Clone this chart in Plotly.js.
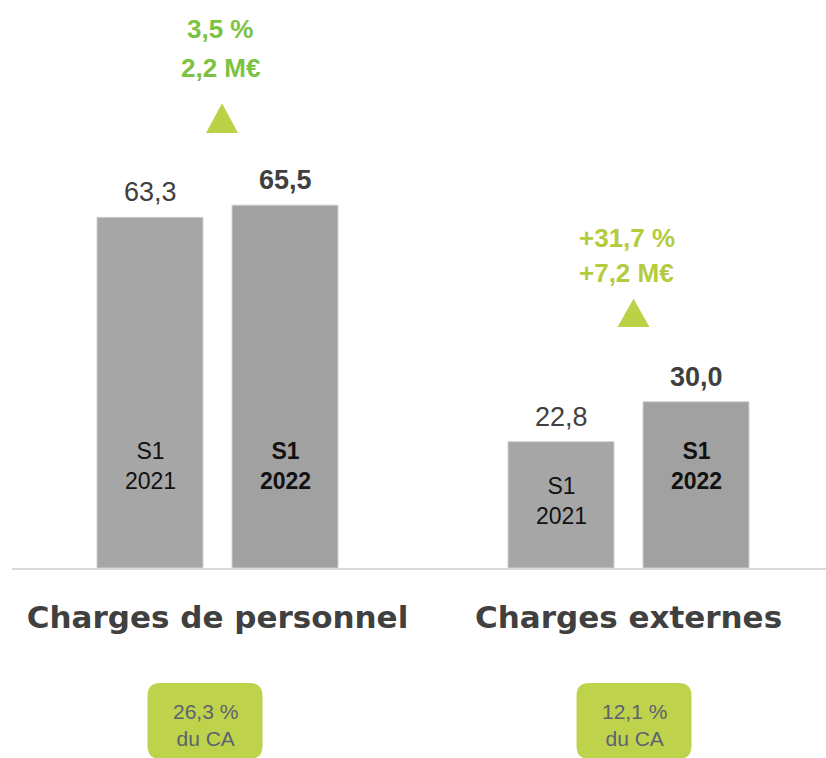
<!DOCTYPE html>
<html>
<head>
<meta charset="utf-8">
<script src="https://cdn.plot.ly/plotly-3.0.1.min.js"></script>
<style>html,body{margin:0;padding:0;background:#fff;}#chart{width:826px;height:758px;}</style>
</head>
<body>
<div id="chart"></div>
<script>
// ---- data ----
const categories = ['Charges de personnel', 'Charges externes'];
const values2021 = [63.3, 22.8];
const values2022 = [65.5, 30.0];
const periodLabels = ['S1<br>2021', 'S1<br>2022'];
const variationPct = ['3,5 %', '+31,7 %'];
const variationEur = ['2,2 M€', '+7,2 M€'];
const shareOfRevenue = ['26,3 %', '12,1 %'];

// ---- layout constants ----
const W = 826, H = 758;
const M = {l: 12, r: 0, t: 0, b: 190};
const plotW = W - M.l - M.r, plotH = H - M.t - M.b;
const xRange = [-0.5, 1.4805];
const yMax = 102.53;
const bargap = 0.343, bargroupgap = 0.215;
const slot = (1 - bargap) / 2;
const offs = [-slot / 2, slot / 2];
const SANS = '"Liberation Sans", Arial, sans-serif';
const fr = v => v.toFixed(1).replace('.', ',');

const pxX = c => M.l + (c - xRange[0]) / (xRange[1] - xRange[0]) * plotW; // category -> px
const paperX = px => (px - M.l) / plotW;
const paperY = py => (M.t + plotH - py) / plotH;

const traces = [
  {type: 'bar', name: 'S1 2021', x: categories, y: values2021,
   marker: {color: '#a6a6a6', line: {color: '#cfcfcf', width: 1}}, hoverinfo: 'skip'},
  {type: 'bar', name: 'S1 2022', x: categories, y: values2022,
   marker: {color: '#a1a1a1', line: {color: '#cfcfcf', width: 1}}, hoverinfo: 'skip'}
];

const annotations = [];
const shapes = [];
const series = [values2021, values2022];
const innerY = [[18.4, 12.1], [18.4, 18.4]];
series.forEach((vals, j) => {
  vals.forEach((v, i) => {
    annotations.push({x: i + offs[j], y: v, xref: 'x', yref: 'y', xanchor: 'center', yanchor: 'bottom', yshift: 8,
      text: fr(v), showarrow: false,
      font: {family: SANS, size: 27, color: '#404040', weight: j === 1 ? 'bold' : 'normal'}});
    annotations.push({x: i + offs[j], y: innerY[j][i], xref: 'x', yref: 'y', xanchor: 'center', yanchor: 'middle',
      text: periodLabels[j], showarrow: false,
      font: {family: SANS, size: 23, color: '#111111', weight: j === 1 ? 'bold' : 'normal'}});
  });
});

// variation texts + triangles
const varColors = ['#7cc243', '#b3cc3e'];
const pctY = [97.3, 59.5], eurY = [90.3, 53.2];
const varDx = [3, -2];
const triDx = [4.5, 5];
const triApex = [83.9, 48.6], triBase = [78.5, 43.5];
categories.forEach((c, i) => {
  const f = {family: SANS, size: 26, color: varColors[i], weight: 'bold'};
  annotations.push({x: paperX(pxX(i) + varDx[i]), y: pctY[i], xref: 'paper', yref: 'y',
    xanchor: 'center', yanchor: 'middle', text: variationPct[i], showarrow: false, font: f});
  annotations.push({x: paperX(pxX(i) + varDx[i]), y: eurY[i], xref: 'paper', yref: 'y',
    xanchor: 'center', yanchor: 'middle', text: variationEur[i], showarrow: false, font: f});
  const cx = pxX(i) + triDx[i];
  shapes.push({type: 'path', xref: 'paper', yref: 'y', layer: 'above',
    path: `M${paperX(cx - 16)},${triBase[i]} L${paperX(cx + 16)},${triBase[i]} L${paperX(cx)},${triApex[i]} Z`,
    fillcolor: '#bdd147', line: {width: 0}});
});

// rounded boxes "% du CA"
const boxCx = [205, 634];
const boxW = 115, boxTop = 683, boxBot = 759, rad = 13;
function roundRect(x0, x1, y0, y1, r) {
  const P = (x, y) => paperX(x) + ',' + paperY(y);
  return `M${P(x0 + r, y0)} L${P(x1 - r, y0)} Q${P(x1, y0)} ${P(x1, y0 + r)} L${P(x1, y1 - r)} Q${P(x1, y1)} ${P(x1 - r, y1)} L${P(x0 + r, y1)} Q${P(x0, y1)} ${P(x0, y1 - r)} L${P(x0, y0 + r)} Q${P(x0, y0)} ${P(x0 + r, y0)} Z`;
}
shareOfRevenue.forEach((s, i) => {
  shapes.push({type: 'path', xref: 'paper', yref: 'paper',
    path: roundRect(boxCx[i] - boxW / 2, boxCx[i] + boxW / 2, boxTop, boxBot, rad),
    fillcolor: '#bfd24b', line: {width: 0}});
  annotations.push({x: paperX(boxCx[i]), y: paperY(725), xref: 'paper', yref: 'paper',
    xanchor: 'center', yanchor: 'middle', text: s + '<br>du CA', showarrow: false,
    font: {family: SANS, size: 21, color: '#5b6270'}});
});

const layout = {
  width: W, height: H, margin: M,
  paper_bgcolor: '#ffffff', plot_bgcolor: '#ffffff',
  barmode: 'group', bargap: bargap, bargroupgap: bargroupgap,
  showlegend: false,
  xaxis: {type: 'category', range: xRange, showline: true, linecolor: '#d9d9d9', linewidth: 2,
    ticks: '', showgrid: false, zeroline: false, ticklabelstandoff: 21,
    tickfont: {family: '"DejaVu Sans", sans-serif', size: 31, color: '#404040', weight: 'bold'}},
  yaxis: {range: [0, yMax], visible: false, showgrid: false, zeroline: false},
  annotations: annotations,
  shapes: shapes
};

Plotly.newPlot('chart', traces, layout, {displayModeBar: false, staticPlot: true});
</script>
</body>
</html>
